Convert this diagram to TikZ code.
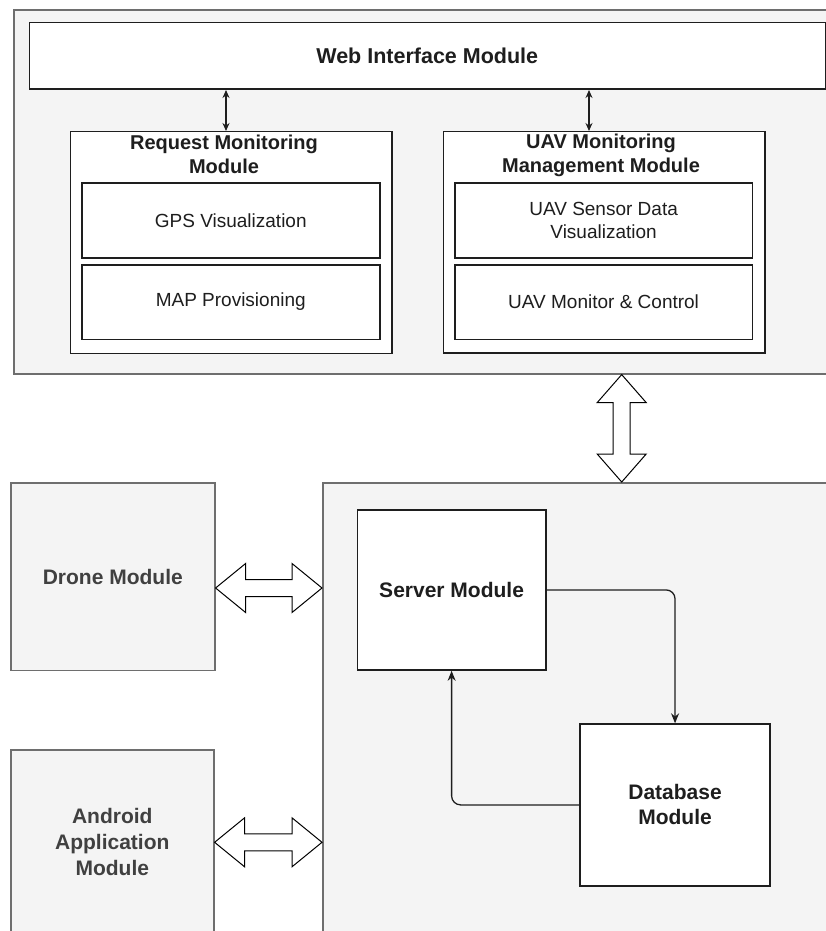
\documentclass[tikz,border=0pt]{standalone}
\usepackage{fontspec}
\setmainfont{Liberation Sans}
\usetikzlibrary{arrows.meta,calc}
\definecolor{panel}{HTML}{F4F4F4}
\definecolor{edge}{HTML}{6E6E6E}
\definecolor{ink}{HTML}{1E1E1E}
\tikzset{panelbox/.style={draw=edge, fill=panel, line width=1.6pt, anchor=north west, inner sep=0pt, align=center},
    box/.style={draw=ink, fill=white, line width=1.5pt, anchor=north west, inner sep=0pt, align=center, text=ink,
        font=\fontsize{19}{23}\selectfont},
    heading/.style={font=\fontsize{20}{24}\selectfont\bfseries, text=ink, align=center},
    bigheading/.style={font=\fontsize{21}{25}\selectfont\bfseries, text=ink, align=center},
    link/.style={draw=ink, line width=1.3pt, -{Stealth[length=10pt,width=8pt]}, rounded corners=9pt},
    twoway/.style={draw=ink, line width=1.2pt, {Stealth[length=8pt,width=7pt]}-{Stealth[length=8pt,width=7pt]}},
    blockarrow/.style={draw=black, fill=white, line width=1pt, line join=miter}}
% hollow double arrows, tip to tip
\newcommand\hbigarrow[2]{\draw[blockarrow] let \p1=(#1), \p2=(#2), \n1={\x2-\x1-60pt} in
    (\p1) -- ++(30,-24.5) -- ++(0,16) -- ++(\n1,0pt) -- ++(0,-16) -- (\p2)
    -- ++(-30,24.5) -- ++(0,-16) -- ++(-\n1,0pt) -- ++(0,16) -- cycle;}
\newcommand\vbigarrow[2]{\draw[blockarrow] let \p1=(#1), \p2=(#2), \n1={\y1-\y2-56pt} in
    (\p1) -- ++(-24.5,28) -- ++(16,0) -- ++(0pt,-\n1) -- ++(-16,0) -- (\p2)
    -- ++(24.5,-28) -- ++(-16,0) -- ++(0pt,\n1) -- ++(16,0) -- cycle;}
\begin{document}
\begin{tikzpicture}[x=1pt, y=-1pt]
		\useasboundingbox (0,0) rectangle (826,931);
		\fill[white] (0,0) rectangle (826,931);
		% web side
		\node[panelbox, minimum width=840, minimum height=364] (topframe) at (13,9) {};
		\node[box, minimum width=796, minimum height=66.5, font=\fontsize{21.5}{25}\selectfont\bfseries] (web) at (28.5,22) {Web Interface Module};
		\node[box, minimum width=321.5, minimum height=221.5] (reqmod) at (69.5,131) {};
		\node[heading] (reqtitle) at (224,154) {Request Monitoring\\Module};
		\node[box, minimum width=298, minimum height=75] (gps) at (81,182) {GPS Visualization};
		\node[box, minimum width=298, minimum height=74.5] (map) at (81,264) {MAP Provisioning};
		\node[box, minimum width=321.3, minimum height=221] (uavmod) at (442.7,131) {};
		\node[heading] (uavtitle) at (601,155) {UAV Monitoring\\Management Module};
		\node[box, minimum width=297.7, minimum height=75] (sensor) at (454,182) {UAV Sensor Data\\Visualization};
		\node[box, minimum width=297.7, minimum height=74.5] (control) at (454,264) {UAV Monitor \& Control};
		% clients and server side
		\node[panelbox, minimum width=204, minimum height=187.5, bigheading, text=ink!85] (drone) at (10,482) {Drone Module};
		\node[panelbox, minimum width=203, minimum height=185, bigheading, text=ink!85, font=\fontsize{21}{26}\selectfont\bfseries] (android) at (10,749) {Android\\Application\\Module};
		\node[panelbox, minimum width=520, minimum height=460] (serverarea) at (322,482) {};
		\node[box, minimum width=188.3, minimum height=160.3, bigheading] (server) at (356.7,509) {Server Module};
		\node[box, minimum width=190, minimum height=161.7, bigheading] (db) at (579.3,723.3) {Database\\Module};
		\coordinate (ra) at (226,0);
		\coordinate (ua) at (589,0);
		\coordinate (va) at (621.7,0);
		\coordinate (da) at (0,588);
		\draw[twoway] (web.south -| ra) -- (reqmod.north -| ra);
		\draw[twoway] (web.south -| ua) -- (uavmod.north -| ua);
		\vbigarrow{topframe.south -| va}{serverarea.north -| va}
		\hbigarrow{drone.east |- da}{serverarea.west |- da}
		\hbigarrow{android.east}{serverarea.west |- android.east}
		\draw[link] (server.east) -| (db.north);
		\draw[link] (db.west) -| (server.south);
		\end{tikzpicture}
\end{document}
